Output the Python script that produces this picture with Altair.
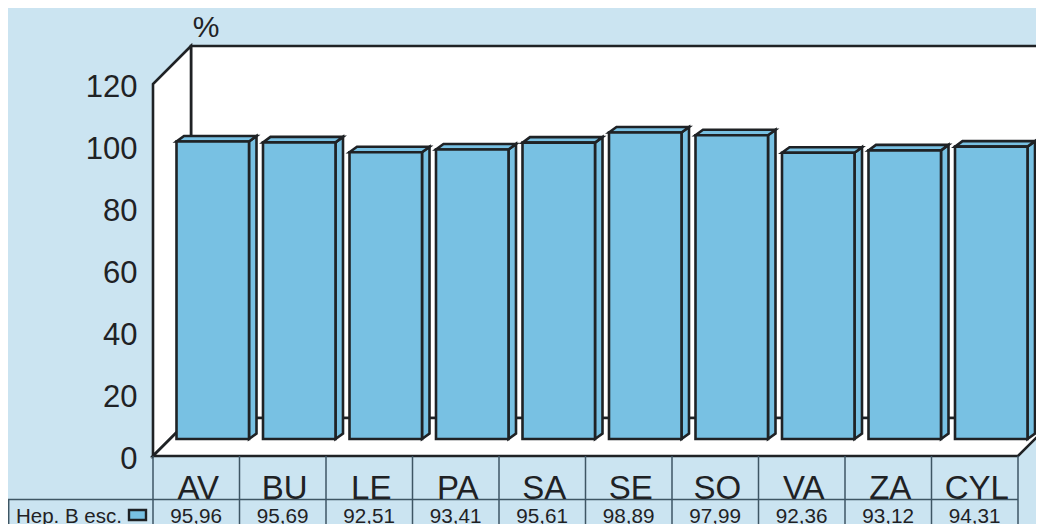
import altair as alt
import pandas as pd

categories = ["AV", "BU", "LE", "PA", "SA", "SE", "SO", "VA", "ZA", "CYL"]
values = [95.96, 95.69, 92.51, 93.41, 95.61, 98.89, 97.99, 92.36, 93.12, 94.31]
value_labels = ["95,96", "95,69", "92,51", "93,41", "95,61", "98,89", "97,99", "92,36", "93,12", "94,31"]
y_ticks = [0, 20, 40, 60, 80, 100, 120]
series_name = "Hep. B esc."
unit_label = "%"

BG = "#CBE4F1"
BAR = "#78C1E3"
INK = "#1F2225"
GRID = "#3E5664"
FONT = "Liberation Sans"

W, H = 1028, 516
U = 86.5      # px per category
PV = 3.1      # px per y unit
X0, Y0 = 153, 456  # page position of the front-floor corner


def ux(px):
    return (px - X0) / U


def vy(py):
    return (Y0 - py) / PV


xs = alt.Scale(domain=[ux(8), ux(8 + W)], nice=False, zero=False)
ys = alt.Scale(domain=[vy(8 + H), vy(8)], nice=False, zero=False)
y_axis = alt.Axis(
    values=y_ticks, domain=False, ticks=False, grid=False, offset=-129, labelPadding=0,
    labelFont=FONT, labelFontSize=31, labelColor=INK, labelOffset=3, labelFlush=False,
    labelOverlap=False, title=None)
X = lambda f="x": alt.X(f"{f}:Q", scale=xs, axis=None, title=None)
Y = lambda f="y": alt.Y(f"{f}:Q", scale=ys, axis=y_axis, title=None, stack=None)

WALL_DX, WALL_DV = 38 / U, 38 / PV
WALL_H = 120
N = len(categories)
BAR_L, BAR_W = ux(176.5), 72.5 / U
BASE = vy(439)
DX, DV = 7.5 / U, 5.5 / PV

stroke = dict(stroke=INK, strokeWidth=2.6, strokeJoin="miter")

back = alt.Chart(pd.DataFrame({"x": [WALL_DX], "x2": [10.7], "y": [WALL_DV], "y2": [WALL_H + WALL_DV]})).mark_rect(
    fill="white", **stroke).encode(x=X(), x2="x2:Q", y=Y(), y2="y2:Q")

left = alt.Chart(pd.DataFrame({"x": [0, WALL_DX], "y": [0, WALL_DV], "y2": [WALL_H, WALL_H + WALL_DV]})).mark_area(
    orient="vertical", fill="white", **stroke).encode(x=X(), y=Y(), y2="y2:Q")

floor = alt.Chart(pd.DataFrame({"y": [0, WALL_DV], "x": [0, WALL_DX], "x2": [N, N + WALL_DX]})).mark_area(
    orient="horizontal", fill="white", **stroke).encode(y=Y(), x=X(), x2="x2:Q")

tops, sides, fronts = [], [], []
for i, v in enumerate(values):
    l = i + BAR_L
    r = l + BAR_W
    t = BASE + v
    fronts.append({"x": l, "x2": r, "y": BASE, "y2": t})
    tops += [{"b": i, "y": t, "x": l, "x2": r}, {"b": i, "y": t + DV, "x": l + DX, "x2": r + DX}]
    sides += [{"b": i, "x": r, "y": BASE, "y2": t}, {"b": i, "x": r + DX, "y": BASE + DV, "y2": t + DV}]

bstroke = dict(stroke=INK, strokeWidth=2.6, strokeJoin="miter")
side_l = alt.Chart(pd.DataFrame(sides)).mark_area(orient="vertical", fill=BAR, **bstroke).encode(
    x=X(), y=Y(), y2="y2:Q", detail="b:N")
top_l = alt.Chart(pd.DataFrame(tops)).mark_area(orient="horizontal", fill=BAR, **bstroke).encode(
    y=Y(), x=X(), x2="x2:Q", detail="b:N")
front_l = alt.Chart(pd.DataFrame(fronts)).mark_rect(fill=BAR, **bstroke).encode(
    x=X(), x2="x2:Q", y=Y(), y2="y2:Q")

bottom_v = vy(8 + H)
row_v = vy(499.5)
v_rules = alt.Chart(pd.DataFrame({"x": list(range(N + 1)), "y": [0] * (N + 1), "y2": [bottom_v] * (N + 1)})).mark_rule(
    color=GRID, strokeWidth=1.5).encode(x=X(), y=Y(), y2="y2:Q")
edge = alt.Chart(pd.DataFrame({"x": [ux(8.7)], "y": [row_v], "y2": [bottom_v]})).mark_rule(
    color=GRID, strokeWidth=1.5).encode(x=X(), y=Y(), y2="y2:Q")
h_rule = alt.Chart(pd.DataFrame({"x": [ux(8)], "x2": [N], "y": [row_v]})).mark_rule(
    color=GRID, strokeWidth=1.5).encode(x=X(), x2="x2:Q", y=Y())

centers = [i + 0.5 for i in range(N)]
cat_centers = [c + 2 / U for c in centers]
cat_text = alt.Chart(pd.DataFrame({"x": cat_centers, "y": [vy(488.5)] * N, "t": categories})).mark_text(
    font=FONT, fontSize=33, color=INK, baseline="middle", align="center").encode(x=X(), y=Y(), text="t:N")
val_text = alt.Chart(pd.DataFrame({"x": centers, "y": [vy(517)] * N, "t": value_labels})).mark_text(
    font=FONT, fontSize=20.7, color=INK, baseline="middle", align="center").encode(x=X(), y=Y(), text="t:N")
name_text = alt.Chart(pd.DataFrame({"x": [ux(16)], "y": [vy(517)], "t": [series_name]})).mark_text(
    font=FONT, fontSize=20.5, color=INK, baseline="middle", align="left").encode(x=X(), y=Y(), text="t:N")
swatch = alt.Chart(pd.DataFrame({"x": [ux(129)], "x2": [ux(146)], "y": [vy(510)], "y2": [vy(520)]})).mark_rect(
    fill=BAR, stroke=INK, strokeWidth=2.4).encode(x=X(), x2="x2:Q", y=Y(), y2="y2:Q")
pct = alt.Chart(pd.DataFrame({"x": [ux(206)], "y": [vy(28)], "t": [unit_label]})).mark_text(
    font=FONT, fontSize=30, color=INK, baseline="middle", align="center").encode(x=X(), y=Y(), text="t:N")

chart = alt.layer(
    back, left, floor, side_l, top_l, front_l,
    v_rules, edge, h_rule, cat_text, val_text, name_text, swatch, pct,
).properties(
    width=W, height=H, padding=0, background=BG, autosize=alt.AutoSizeParams(type="none"),
).configure_view(stroke=None, clip=False)

chart.save("out.html", embed_options={"renderer": "svg", "actions": False})
